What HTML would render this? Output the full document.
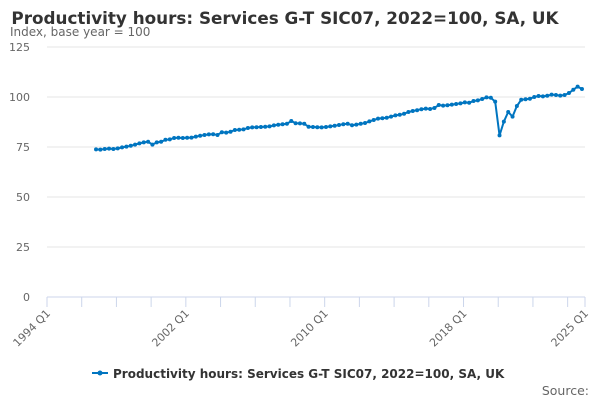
<!DOCTYPE html>
<html><head><meta charset="utf-8"><style>
body{margin:0;background:#fff;font-family:"Liberation Sans","DejaVu Sans",sans-serif}
svg text{font-family:"DejaVu Sans","Liberation Sans",sans-serif}
</style></head><body>
<svg id="chart" width="600" height="400">
<text x="285" y="24" text-anchor="middle" font-size="16.8" font-weight="bold" fill="#333">Productivity hours: Services G-T SIC07, 2022=100, SA, UK</text>
<text x="10" y="36" font-size="12" fill="#666">Index, base year = 100</text>
<g id="grid"></g><g id="xaxis"></g><g id="series"></g>
<g>
<line x1="92" y1="373" x2="108" y2="373" stroke="#0075c0" stroke-width="2"/>
<circle cx="100" cy="373" r="2.5" fill="#0075c0"/>
<text x="113" y="378" font-size="12" font-weight="bold" fill="#333">Productivity hours: Services G-T SIC07, 2022=100, SA, UK</text>
</g>
<text x="589" y="395" text-anchor="end" font-size="12.5" fill="#666">Source:</text>
</svg>
<script>
const yTicks=[0,25,50,75,100,125];
const xTickLabels=["1994 Q1","2002 Q1","2010 Q1","2018 Q1","2025 Q1"];
const startYear=1997;
const values=[73.8,73.7,74.0,74.2, 74.0,74.3,74.8,75.2, 75.6,76.2,76.8,77.3, 77.6,76.2,77.3,77.6,
78.6,78.8,79.5,79.6, 79.5,79.6,79.7,80.2, 80.6,81.0,81.3,81.4, 81.0,82.4,82.2,82.6,
83.5,83.6,83.8,84.5, 84.8,84.9,85.0,85.1, 85.3,85.8,86.1,86.4, 86.6,88.0,86.9,86.8,
86.6,85.1,85.0,84.9, 84.8,85.0,85.3,85.6, 86.0,86.4,86.6,85.9, 86.2,86.6,87.0,87.8,
88.5,89.2,89.4,89.6, 90.2,90.8,91.1,91.6, 92.5,93.0,93.4,93.9, 94.2,94.0,94.5,96.0,
95.7,95.9,96.2,96.5, 96.8,97.3,97.1,98.0, 98.3,99.0,99.8,99.6, 97.7,80.8,87.7,92.5,
90.2,95.5,98.6,98.9, 99.1,100.0,100.5,100.3, 100.6,101.2,101.0,100.7, 101.0,102.0,103.6,105.2,
104.0];
const ns="http://www.w3.org/2000/svg";
const X0=47,X1=585,Y0=297,Y1=47;
const xq=q=>X0+(q/124)*(X1-X0);
const yv=v=>Y0-(v/125)*(Y0-Y1);
function mk(t,a,p){const e=document.createElementNS(ns,t);for(const k in a)e.setAttribute(k,a[k]);p.appendChild(e);return e;}
const grid=document.getElementById('grid');
yTicks.forEach(t=>{
 if(t>0){const l=mk('line',{x1:X0,x2:X1,y1:yv(t),y2:yv(t),stroke:'#e6e6e6'},grid);
 
 }
 const tx=mk('text',{x:30,y:yv(t)+4,'text-anchor':'end','font-size':11,fill:'#666'},grid);tx.textContent=t;
 
 
});
const xa=document.getElementById('xaxis');
const ax=mk('line',{x1:X0,x2:X1,y1:Y0,y2:Y0,stroke:'#ccd6eb'},xa);


for(let y=1994;y<=2024;y+=2){mk('line',{x1:xq((y-1994)*4),x2:xq((y-1994)*4),y1:Y0,y2:Y0+10,stroke:'#ccd6eb'},xa);}
mk('line',{x1:X1,x2:X1,y1:Y0,y2:Y0+10,stroke:'#ccd6eb'},xa);
xTickLabels.forEach(s=>{const yr=+s.slice(0,4);const x=xq((yr-1994)*4);
 const t=mk('text',{x:x+4,y:Y0+17,'text-anchor':'end','font-size':11,fill:'#666',transform:`rotate(-45 ${x+4} ${Y0+17})`},xa);t.textContent=s;
 
 
});
const sg=document.getElementById('series');
const q0=(startYear-1994)*4-0.7;
const pts=values.map((v,i)=>[xq(q0+i),yv(v)]);
const pl=mk('polyline',{points:pts.map(p=>p.join(',')).join(' '),fill:'none',stroke:'#0075c0','stroke-width':2},sg);


pts.forEach(p=>{const c=mk('circle',{cx:p[0],cy:p[1],r:2,fill:'#0075c0'},sg);
 
 });
</script>
</body></html>
